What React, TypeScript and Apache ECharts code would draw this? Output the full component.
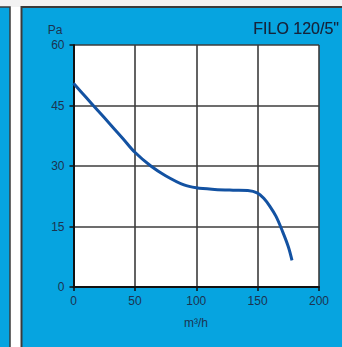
import React, { useEffect, useRef } from "react";
import * as echarts from "echarts";

const title = 'FILO 120/5"';
const yUnit = "Pa";
const xUnit = "m³/h";
const xTicks = [0, 50, 100, 150, 200];
const yTicks = [0, 15, 30, 45, 60];
const flow = [0, 10, 20, 30, 40, 50, 63, 75, 90, 100, 115, 130, 142, 150, 155, 160, 165, 170, 175, 178];
const pressure = [50.5, 47.1, 43.7, 40.3, 36.9, 33.4, 30, 27.6, 25.3, 24.6, 24.2, 24, 23.9, 23.3, 22, 20, 17.5, 14, 10, 6.6];

const BLUE = "#06a4e0";
const TEXT = "#1c3350";

export default function App() {
  const ref = useRef<HTMLDivElement>(null);
  useEffect(() => {
    if (!ref.current) return;
    const chart = echarts.init(ref.current, undefined, { renderer: "svg" });
    const data = flow.map((x, i) => [x, pressure[i]]);
    chart.setOption({
      animation: false,
      backgroundColor: "#ffffff",
      graphic: [
        { type: "rect", z: -10, shape: { x: -3, y: 7, width: 13, height: 345 }, style: { fill: BLUE, stroke: "#3a3a3a", lineWidth: 1.5 } },
        { type: "rect", z: -10, shape: { x: 21.5, y: 7, width: 325, height: 345 }, style: { fill: BLUE, stroke: "#3a3a3a", lineWidth: 2 } },
        { type: "rect", z: -11, shape: { x: 0, y: 0, width: 342, height: 7 }, style: { fill: "#f2f2f2" } },
        { type: "text", x: 339, y: 28, style: { text: title, fontSize: 16, fontFamily: "Liberation Sans, Arial, sans-serif", fill: "#15223a", align: "right", verticalAlign: "middle", textShadowColor: "rgba(20,30,50,0.5)", textShadowBlur: 1 } },
        { type: "text", x: 55, y: 30, style: { text: yUnit, fontSize: 12, fontFamily: "Liberation Sans, Arial, sans-serif", fill: TEXT, align: "center", verticalAlign: "middle" } },
        { type: "text", x: 196, y: 323, style: { text: xUnit, fontSize: 12, fontFamily: "Liberation Sans, Arial, sans-serif", fill: TEXT, align: "center", verticalAlign: "middle" } },
      ],
      grid: {
        left: 73.5,
        right: 23,
        top: 45,
        bottom: 60,
        containLabel: false,
        outerBoundsMode: "none",
        show: true,
        backgroundColor: "#ffffff",
        borderWidth: 0,
      },
      xAxis: {
        type: "value",
        min: xTicks[0],
        max: xTicks[xTicks.length - 1],
        interval: 50,
        axisLine: { show: true, onZero: false, lineStyle: { color: "#111", width: 2 } },
        axisTick: { show: true, length: 4, lineStyle: { color: "#111", width: 1.5 } },
        axisLabel: { fontSize: 12, color: TEXT, margin: 8, fontFamily: "Liberation Sans, Arial, sans-serif" },
        splitLine: { show: true, lineStyle: { color: "#3c3c3c", width: 1.6 } },
      },
      yAxis: {
        type: "value",
        min: yTicks[0],
        max: yTicks[yTicks.length - 1],
        interval: 15,
        axisLine: { show: true, onZero: false, lineStyle: { color: "#111", width: 2 } },
        axisTick: { show: true, length: 4, lineStyle: { color: "#111", width: 1.5 } },
        axisLabel: { fontSize: 12, color: TEXT, margin: 9, fontFamily: "Liberation Sans, Arial, sans-serif" },
        splitLine: { show: true, lineStyle: { color: "#3c3c3c", width: 1.6 } },
      },
      series: [
        {
          type: "line",
          data,
          smooth: 0.35,
          showSymbol: false,
          lineStyle: { color: "#1352a2", width: 3 },
          z: 5,
        },
      ],
    });
    return () => chart.dispose();
  }, []);
  return <div ref={ref} style={{ position: "fixed", left: 0, top: 0, width: 342, height: 347 }} />;
}
